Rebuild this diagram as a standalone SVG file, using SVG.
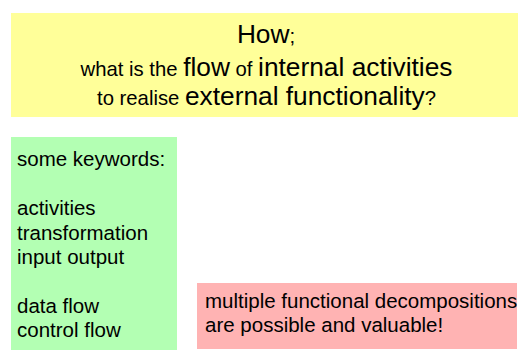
<svg xmlns="http://www.w3.org/2000/svg" width="518" height="350" viewBox="0 0 518 350">
<style>
text{font-family:"Liberation Sans",Arial,sans-serif;fill:#000}
.s{font-size:20.3px}
.L{font-size:26.3px}
.b{font-size:20.5px}
</style>
<rect width="518" height="350" fill="#fff"/>
<g id="question">
<rect x="11" y="13" width="507" height="104" fill="#ffff99"/>
<text x="266" y="43" text-anchor="middle"><tspan class="L">How</tspan><tspan class="s">;</tspan></text>
<text x="266.5" y="76" text-anchor="middle"><tspan class="s">what is the </tspan><tspan class="L">flow</tspan><tspan class="s"> of </tspan><tspan class="L">internal activities</tspan></text>
<text x="266.5" y="105" text-anchor="middle"><tspan class="s">to realise </tspan><tspan class="L">external functionality</tspan><tspan class="s">?</tspan></text>
</g>
<g id="keywords">
<rect x="11" y="137" width="166" height="213" fill="#b3ffb3"/>
<text class="b" x="17" y="166">some keywords:</text>
<text class="b" x="17" y="215">activities</text>
<text class="b" x="17" y="239.5">transformation</text>
<text class="b" x="17" y="264">input output</text>
<text class="b" x="17" y="312.5">data flow</text>
<text class="b" x="17" y="337">control flow</text>
</g>
<g id="note">
<rect x="197" y="283" width="320" height="66" fill="#ffb3b3"/>
<text class="b" x="205" y="308">multiple functional decompositions</text>
<text class="b" x="205" y="332">are possible and valuable!</text>
</g>
</svg>
